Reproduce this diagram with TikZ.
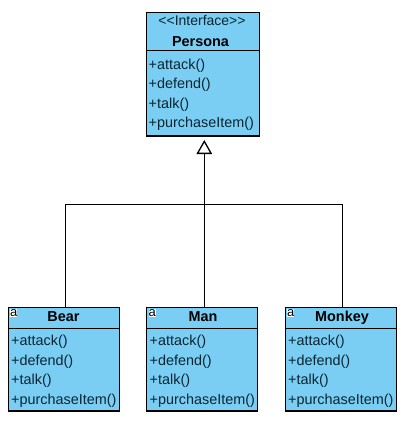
\documentclass[tikz,border=0pt]{standalone}
\usepackage{fontspec}
\setmainfont{Liberation Sans}
\usetikzlibrary{arrows.meta}
\definecolor{umlfill}{HTML}{7ACEF4}
\definecolor{umltext}{HTML}{0A2530}
\tikzset{
  umlbox/.style={draw=black,fill=umlfill,line width=1.2pt,rectangle,anchor=north west,inner sep=0pt,outer sep=0pt,minimum width=#1},
  member/.style={anchor=base west,inner sep=0pt,font=\fontsize{14.4}{14}\selectfont,text=umltext},
  classname/.style={anchor=base,inner sep=0pt,font=\fontsize{14.4}{14}\selectfont\bfseries,text=black},
  stereo/.style={anchor=base,inner sep=0pt,font=\fontsize{14}{14}\selectfont,text=umltext},
  absmark/.style={anchor=center,inner sep=0pt,minimum width=7pt,minimum height=8.5pt,font=\fontsize{13}{10}\selectfont,fill=white,text=black},
  divider/.style={line width=1pt,draw=black},
  conn/.style={line width=1pt,draw=black},
  trunk/.style={line width=1.4pt,draw=black},
  inherit/.style={line width=1pt,draw=black,-{Triangle[open,length=14pt,width=15.5pt,line width=1.3pt]},shorten >=4pt}
}
\newcommand{\classrows}[3]{% x, first baseline, prefix
  \node[member] (#3a) at (#1,#2) {+attack()};
  \node[member] (#3b) at (#1,#2+19.5) {+defend()};
  \node[member] (#3c) at (#1,#2+39) {+talk()};
  \node[member] (#3d) at (#1,#2+58.5) {+purchaseItem()};
}
\begin{document}
\begin{tikzpicture}[x=1pt,y=-1pt]
\useasboundingbox (0,0) rectangle (409,425);
% Persona
\node[umlbox=113pt,minimum height=123.3pt] (persona) at (146.3,12.7) {};
\draw[divider] (146.3,51) -- (259.3,51);
\node[stereo] (pst) at (202,26) {<{}<Interface>{}>};
\node[classname] (pname) at (200.5,46.5) {Persona};
\classrows{148.5}{69.5}{p}
% Bear
\node[umlbox=110.6pt,minimum height=103.7pt] (bear) at (8.5,307.3) {};
\draw[divider] (8.5,328) -- (119.1,328);
\node[absmark] (ba) at (13.7,313) {a};
\node[classname] (bname) at (63.5,321.5) {Bear};
\classrows{11}{345.5}{b}
% Man
\node[umlbox=111pt,minimum height=103.7pt] (man) at (146.8,307.3) {};
\draw[divider] (146.8,328) -- (257.8,328);
\node[absmark] (ma) at (152.2,313) {a};
\node[classname] (mname) at (203,321.5) {Man};
\classrows{149.5}{345.5}{m}
% Monkey
\node[umlbox=111.4pt,minimum height=103.7pt] (monkey) at (285.3,307.3) {};
\draw[divider] (285.3,328) -- (396.7,328);
\node[absmark] (ka) at (290.7,313) {a};
\node[classname] (kname) at (342,321.5) {Monkey};
\classrows{288}{345.5}{k}
% Connectors
\coordinate (join) at (204.3,204.3);
\draw[conn] (bear.north -| 65.3,0) -- (65.3,204.3) -- (join);
\draw[conn] (monkey.north -| 342.5,0) -- (342.5,204.3) -- (join);
\draw[conn] (man.north -| join) -- (join);
\draw[trunk] (join) -- (204.3,154);
\draw[inherit] (join) -- (persona.south -| join);
\end{tikzpicture}
\end{document}
